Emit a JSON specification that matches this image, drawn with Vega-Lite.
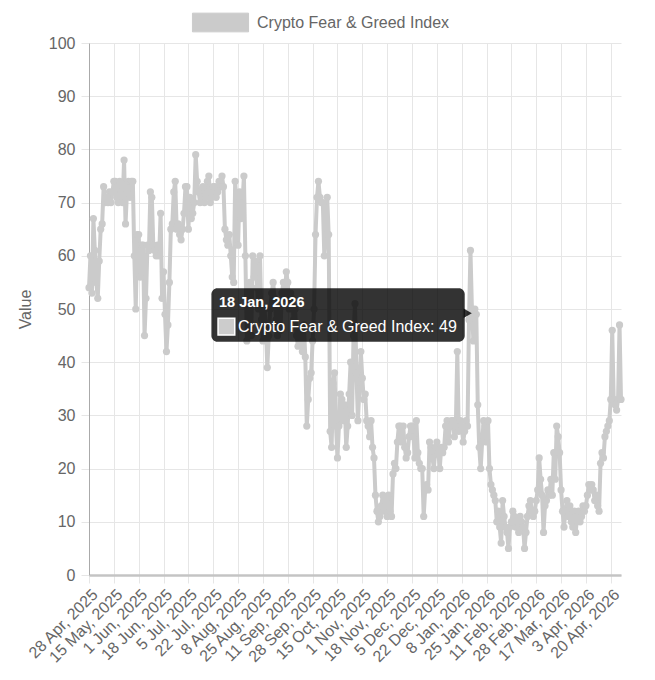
{
  "$schema": "https://vega.github.io/schema/vega-lite/v6.json",
  "width": 532,
  "height": 532,
  "autosize": {"type": "none"},
  "padding": {"left": 89, "top": 43, "right": 34, "bottom": 105},
  "background": "white",
  "config": {"font": "Liberation Sans", "view": {"stroke": null}},
  "datasets": {
    "fng": [
      {"date":"2025-04-28","value":54},{"date":"2025-04-29","value":60},{"date":"2025-04-30","value":53},
      {"date":"2025-05-01","value":67},{"date":"2025-05-02","value":61},{"date":"2025-05-03","value":55},{"date":"2025-05-04","value":52},{"date":"2025-05-05","value":59},{"date":"2025-05-06","value":65},{"date":"2025-05-07","value":66},{"date":"2025-05-08","value":73},{"date":"2025-05-09","value":70},{"date":"2025-05-10","value":71},{"date":"2025-05-11","value":70},{"date":"2025-05-12","value":72},{"date":"2025-05-13","value":70},{"date":"2025-05-14","value":72},{"date":"2025-05-15","value":74},{"date":"2025-05-16","value":74},{"date":"2025-05-17","value":71},{"date":"2025-05-18","value":70},{"date":"2025-05-19","value":74},{"date":"2025-05-20","value":72},{"date":"2025-05-21","value":70},{"date":"2025-05-22","value":78},{"date":"2025-05-23","value":66},{"date":"2025-05-24","value":72},{"date":"2025-05-25","value":74},{"date":"2025-05-26","value":71},{"date":"2025-05-27","value":74},{"date":"2025-05-28","value":74},{"date":"2025-05-29","value":60},{"date":"2025-05-30","value":50},{"date":"2025-05-31","value":64},
      {"date":"2025-06-01","value":64},{"date":"2025-06-02","value":56},{"date":"2025-06-03","value":62},{"date":"2025-06-04","value":62},{"date":"2025-06-05","value":45},{"date":"2025-06-06","value":52},{"date":"2025-06-07","value":62},{"date":"2025-06-08","value":61},{"date":"2025-06-09","value":72},{"date":"2025-06-10","value":71},{"date":"2025-06-11","value":62},{"date":"2025-06-12","value":61},{"date":"2025-06-13","value":60},{"date":"2025-06-14","value":62},{"date":"2025-06-15","value":60},{"date":"2025-06-16","value":68},{"date":"2025-06-17","value":52},{"date":"2025-06-18","value":57},{"date":"2025-06-19","value":49},{"date":"2025-06-20","value":42},{"date":"2025-06-21","value":47},{"date":"2025-06-22","value":55},{"date":"2025-06-23","value":65},{"date":"2025-06-24","value":66},{"date":"2025-06-25","value":72},{"date":"2025-06-26","value":74},{"date":"2025-06-27","value":65},{"date":"2025-06-28","value":66},{"date":"2025-06-29","value":64},{"date":"2025-06-30","value":63},
      {"date":"2025-07-01","value":65},{"date":"2025-07-02","value":68},{"date":"2025-07-03","value":73},{"date":"2025-07-04","value":73},{"date":"2025-07-05","value":65},{"date":"2025-07-06","value":71},{"date":"2025-07-07","value":67},{"date":"2025-07-08","value":68},{"date":"2025-07-09","value":70},{"date":"2025-07-10","value":79},{"date":"2025-07-11","value":74},{"date":"2025-07-12","value":72},{"date":"2025-07-13","value":70},{"date":"2025-07-14","value":71},{"date":"2025-07-15","value":73},{"date":"2025-07-16","value":70},{"date":"2025-07-17","value":71},{"date":"2025-07-18","value":74},{"date":"2025-07-19","value":75},{"date":"2025-07-20","value":70},{"date":"2025-07-21","value":71},{"date":"2025-07-22","value":73},{"date":"2025-07-23","value":73},{"date":"2025-07-24","value":71},{"date":"2025-07-25","value":72},{"date":"2025-07-26","value":74},{"date":"2025-07-27","value":73},{"date":"2025-07-28","value":75},{"date":"2025-07-29","value":73},{"date":"2025-07-30","value":65},{"date":"2025-07-31","value":63},
      {"date":"2025-08-01","value":62},{"date":"2025-08-02","value":64},{"date":"2025-08-03","value":60},{"date":"2025-08-04","value":56},{"date":"2025-08-05","value":55},{"date":"2025-08-06","value":74},{"date":"2025-08-07","value":70},{"date":"2025-08-08","value":62},{"date":"2025-08-09","value":72},{"date":"2025-08-10","value":67},{"date":"2025-08-11","value":70},{"date":"2025-08-12","value":75},{"date":"2025-08-13","value":60},{"date":"2025-08-14","value":44},{"date":"2025-08-15","value":50},{"date":"2025-08-16","value":55},{"date":"2025-08-17","value":45},{"date":"2025-08-18","value":60},{"date":"2025-08-19","value":56},{"date":"2025-08-20","value":59},{"date":"2025-08-21","value":54},{"date":"2025-08-22","value":50},{"date":"2025-08-23","value":60},{"date":"2025-08-24","value":48},{"date":"2025-08-25","value":44},{"date":"2025-08-26","value":50},{"date":"2025-08-27","value":47},{"date":"2025-08-28","value":39},{"date":"2025-08-29","value":45},{"date":"2025-08-30","value":50},{"date":"2025-08-31","value":53},
      {"date":"2025-09-01","value":55},{"date":"2025-09-02","value":52},{"date":"2025-09-03","value":48},{"date":"2025-09-04","value":45},{"date":"2025-09-05","value":50},{"date":"2025-09-06","value":46},{"date":"2025-09-07","value":53},{"date":"2025-09-08","value":55},{"date":"2025-09-09","value":52},{"date":"2025-09-10","value":57},{"date":"2025-09-11","value":55},{"date":"2025-09-12","value":50},{"date":"2025-09-13","value":53},{"date":"2025-09-14","value":52},{"date":"2025-09-15","value":48},{"date":"2025-09-16","value":50},{"date":"2025-09-17","value":45},{"date":"2025-09-18","value":43},{"date":"2025-09-19","value":46},{"date":"2025-09-20","value":44},{"date":"2025-09-21","value":42},{"date":"2025-09-22","value":47},{"date":"2025-09-23","value":41},{"date":"2025-09-24","value":28},{"date":"2025-09-25","value":33},{"date":"2025-09-26","value":37},{"date":"2025-09-27","value":38},{"date":"2025-09-28","value":44},{"date":"2025-09-29","value":50},{"date":"2025-09-30","value":64},
      {"date":"2025-10-01","value":71},{"date":"2025-10-02","value":74},{"date":"2025-10-03","value":71},{"date":"2025-10-04","value":70},{"date":"2025-10-05","value":70},{"date":"2025-10-06","value":60},{"date":"2025-10-07","value":64},{"date":"2025-10-08","value":71},{"date":"2025-10-09","value":64},{"date":"2025-10-10","value":27},{"date":"2025-10-11","value":24},{"date":"2025-10-12","value":36},{"date":"2025-10-13","value":38},{"date":"2025-10-14","value":28},{"date":"2025-10-15","value":22},{"date":"2025-10-16","value":28},{"date":"2025-10-17","value":34},{"date":"2025-10-18","value":33},{"date":"2025-10-19","value":29},{"date":"2025-10-20","value":32},{"date":"2025-10-21","value":24},{"date":"2025-10-22","value":28},{"date":"2025-10-23","value":34},{"date":"2025-10-24","value":40},{"date":"2025-10-25","value":30},{"date":"2025-10-26","value":45},{"date":"2025-10-27","value":51},{"date":"2025-10-28","value":38},{"date":"2025-10-29","value":29},{"date":"2025-10-30","value":35},{"date":"2025-10-31","value":42},
      {"date":"2025-11-01","value":37},{"date":"2025-11-02","value":33},{"date":"2025-11-03","value":34},{"date":"2025-11-04","value":29},{"date":"2025-11-05","value":28},{"date":"2025-11-06","value":26},{"date":"2025-11-07","value":29},{"date":"2025-11-08","value":24},{"date":"2025-11-09","value":22},{"date":"2025-11-10","value":15},{"date":"2025-11-11","value":12},{"date":"2025-11-12","value":10},{"date":"2025-11-13","value":11},{"date":"2025-11-14","value":13},{"date":"2025-11-15","value":15},{"date":"2025-11-16","value":12},{"date":"2025-11-17","value":14},{"date":"2025-11-18","value":11},{"date":"2025-11-19","value":15},{"date":"2025-11-20","value":12},{"date":"2025-11-21","value":11},{"date":"2025-11-22","value":19},{"date":"2025-11-23","value":21},{"date":"2025-11-24","value":20},{"date":"2025-11-25","value":25},{"date":"2025-11-26","value":28},{"date":"2025-11-27","value":28},{"date":"2025-11-28","value":25},{"date":"2025-11-29","value":28},{"date":"2025-11-30","value":24},
      {"date":"2025-12-01","value":22},{"date":"2025-12-02","value":23},{"date":"2025-12-03","value":26},{"date":"2025-12-04","value":28},{"date":"2025-12-05","value":28},{"date":"2025-12-06","value":26},{"date":"2025-12-07","value":22},{"date":"2025-12-08","value":29},{"date":"2025-12-09","value":23},{"date":"2025-12-10","value":21},{"date":"2025-12-11","value":20},{"date":"2025-12-12","value":20},{"date":"2025-12-13","value":11},{"date":"2025-12-14","value":16},{"date":"2025-12-15","value":17},{"date":"2025-12-16","value":16},{"date":"2025-12-17","value":25},{"date":"2025-12-18","value":24},{"date":"2025-12-19","value":22},{"date":"2025-12-20","value":20},{"date":"2025-12-21","value":24},{"date":"2025-12-22","value":25},{"date":"2025-12-23","value":23},{"date":"2025-12-24","value":20},{"date":"2025-12-25","value":24},{"date":"2025-12-26","value":23},{"date":"2025-12-27","value":24},{"date":"2025-12-28","value":28},{"date":"2025-12-29","value":29},{"date":"2025-12-30","value":25},{"date":"2025-12-31","value":28},
      {"date":"2026-01-01","value":29},{"date":"2026-01-02","value":29},{"date":"2026-01-03","value":26},{"date":"2026-01-04","value":28},{"date":"2026-01-05","value":42},{"date":"2026-01-06","value":27},{"date":"2026-01-07","value":29},{"date":"2026-01-08","value":28},{"date":"2026-01-09","value":25},{"date":"2026-01-10","value":27},{"date":"2026-01-11","value":29},{"date":"2026-01-12","value":28},{"date":"2026-01-13","value":48},{"date":"2026-01-14","value":61},{"date":"2026-01-15","value":50},{"date":"2026-01-16","value":44},{"date":"2026-01-17","value":50},{"date":"2026-01-18","value":49},{"date":"2026-01-19","value":32},{"date":"2026-01-20","value":24},{"date":"2026-01-21","value":20},{"date":"2026-01-22","value":25},{"date":"2026-01-23","value":29},{"date":"2026-01-24","value":28},{"date":"2026-01-25","value":25},{"date":"2026-01-26","value":29},{"date":"2026-01-27","value":20},{"date":"2026-01-28","value":17},{"date":"2026-01-29","value":16},{"date":"2026-01-30","value":15},{"date":"2026-01-31","value":14},
      {"date":"2026-02-01","value":10},{"date":"2026-02-02","value":12},{"date":"2026-02-03","value":9},{"date":"2026-02-04","value":6},{"date":"2026-02-05","value":14},{"date":"2026-02-06","value":11},{"date":"2026-02-07","value":9},{"date":"2026-02-08","value":8},{"date":"2026-02-09","value":5},{"date":"2026-02-10","value":9},{"date":"2026-02-11","value":10},{"date":"2026-02-12","value":12},{"date":"2026-02-13","value":11},{"date":"2026-02-14","value":9},{"date":"2026-02-15","value":10},{"date":"2026-02-16","value":8},{"date":"2026-02-17","value":11},{"date":"2026-02-18","value":10},{"date":"2026-02-19","value":9},{"date":"2026-02-20","value":5},{"date":"2026-02-21","value":8},{"date":"2026-02-22","value":11},{"date":"2026-02-23","value":13},{"date":"2026-02-24","value":14},{"date":"2026-02-25","value":12},{"date":"2026-02-26","value":11},{"date":"2026-02-27","value":12},{"date":"2026-02-28","value":14},
      {"date":"2026-03-01","value":16},{"date":"2026-03-02","value":22},{"date":"2026-03-03","value":18},{"date":"2026-03-04","value":15},{"date":"2026-03-05","value":8},{"date":"2026-03-06","value":13},{"date":"2026-03-07","value":14},{"date":"2026-03-08","value":16},{"date":"2026-03-09","value":15},{"date":"2026-03-10","value":18},{"date":"2026-03-11","value":15},{"date":"2026-03-12","value":23},{"date":"2026-03-13","value":18},{"date":"2026-03-14","value":28},{"date":"2026-03-15","value":26},{"date":"2026-03-16","value":23},{"date":"2026-03-17","value":16},{"date":"2026-03-18","value":12},{"date":"2026-03-19","value":9},{"date":"2026-03-20","value":12},{"date":"2026-03-21","value":14},{"date":"2026-03-22","value":11},{"date":"2026-03-23","value":13},{"date":"2026-03-24","value":10},{"date":"2026-03-25","value":9},{"date":"2026-03-26","value":12},{"date":"2026-03-27","value":8},{"date":"2026-03-28","value":11},{"date":"2026-03-29","value":12},{"date":"2026-03-30","value":10},{"date":"2026-03-31","value":11},
      {"date":"2026-04-01","value":13},{"date":"2026-04-02","value":12},{"date":"2026-04-03","value":13},{"date":"2026-04-04","value":15},{"date":"2026-04-05","value":17},{"date":"2026-04-06","value":16},{"date":"2026-04-07","value":17},{"date":"2026-04-08","value":16},{"date":"2026-04-09","value":14},{"date":"2026-04-10","value":15},{"date":"2026-04-11","value":13},{"date":"2026-04-12","value":12},{"date":"2026-04-13","value":21},{"date":"2026-04-14","value":23},{"date":"2026-04-15","value":22},{"date":"2026-04-16","value":26},{"date":"2026-04-17","value":27},{"date":"2026-04-18","value":28},{"date":"2026-04-19","value":29},{"date":"2026-04-20","value":33},{"date":"2026-04-21","value":46},{"date":"2026-04-22","value":33},{"date":"2026-04-23","value":32},{"date":"2026-04-24","value":31},{"date":"2026-04-25","value":33},{"date":"2026-04-26","value":47},{"date":"2026-04-27","value":33}
    ],
    "tip": [
      {"date":"2026-01-18","value":49,"title":"18 Jan, 2026","label":"Crypto Fear & Greed Index: 49"}
    ]
  },
  "encoding": {
    "x": {
      "field": "date",
      "type": "temporal",
      "scale": {
        "type": "utc",
        "domain": [{"year":2025,"month":4,"date":28,"utc":true},{"year":2026,"month":4,"date":27,"utc":true}],
        "nice": false,
        "padding": 0
      },
      "axis": {
        "title": null,
        "values": [
          {"year":2025,"month":4,"date":28,"utc":true},{"year":2025,"month":5,"date":15,"utc":true},{"year":2025,"month":6,"date":1,"utc":true},{"year":2025,"month":6,"date":18,"utc":true},{"year":2025,"month":7,"date":5,"utc":true},{"year":2025,"month":7,"date":22,"utc":true},{"year":2025,"month":8,"date":8,"utc":true},{"year":2025,"month":8,"date":25,"utc":true},{"year":2025,"month":9,"date":11,"utc":true},{"year":2025,"month":9,"date":28,"utc":true},{"year":2025,"month":10,"date":15,"utc":true},{"year":2025,"month":11,"date":1,"utc":true},{"year":2025,"month":11,"date":18,"utc":true},{"year":2025,"month":12,"date":5,"utc":true},{"year":2025,"month":12,"date":22,"utc":true},{"year":2026,"month":1,"date":8,"utc":true},{"year":2026,"month":1,"date":25,"utc":true},{"year":2026,"month":2,"date":11,"utc":true},{"year":2026,"month":2,"date":28,"utc":true},{"year":2026,"month":3,"date":17,"utc":true},{"year":2026,"month":4,"date":3,"utc":true},{"year":2026,"month":4,"date":20,"utc":true}
        ],
        "format": "%-d %b, %Y",
        "labelAngle": -45,
        "labelFontSize": 16,
        "labelColor": "#666666",
        "labelPadding": 3,
        "labelOverlap": false,
        "labelFlush": false,
        "labelBound": false,
        "grid": true,
        "gridColor": "#e6e6e6",
        "tickColor": "#e6e6e6",
        "tickSize": 8,
        "domainColor": "#c4c4c4",
        "domainWidth": 2.5
      }
    },
    "y": {
      "field": "value",
      "type": "quantitative",
      "scale": {"domain": [0, 100], "nice": false, "zero": true},
      "axis": {
        "title": "Value",
        "titleFontSize": 16,
        "titleFontWeight": "normal",
        "titleColor": "#666666",
        "titleX": -64,
        "titleY": 266,
        "titleAngle": -90,
        "titleAlign": "center",
        "titleBaseline": "middle",
        "values": [0,10,20,30,40,50,60,70,80,90,100],
        "labelFontSize": 16,
        "labelColor": "#666666",
        "labelPadding": 6,
        "grid": true,
        "gridColor": "#e6e6e6",
        "tickColor": "#e6e6e6",
        "tickSize": 8,
        "domainColor": "#aaaaaa",
        "domainWidth": 1
      }
    }
  },
  "layer": [
    {
      "data": {"name": "fng"},
      "mark": {"type": "line", "strokeWidth": 4, "strokeJoin": "round", "interpolate": "linear"},
      "encoding": {
        "color": {
          "datum": "Crypto Fear & Greed Index",
          "type": "nominal",
          "scale": {"range": ["#cbcbcb"]},
          "legend": {
            "orient": "none",
            "legendX": 112,
            "legendY": -40,
            "title": null,
            "padding": 0,
            "symbolType": "M-1.5,-0.5H1.5V0.5H-1.5Z",
            "symbolSize": 1400,
            "symbolFillColor": "#cccccc",
            "symbolStrokeColor": "#cbcbcb",
            "symbolStrokeWidth": 1,
            "labelFontSize": 16,
            "labelColor": "#666666",
            "labelOffset": 17,
            "labelLimit": 0
          }
        }
      }
    },
    {
      "data": {"name": "fng"},
      "mark": {"type": "point", "filled": true, "size": 52, "opacity": 1},
      "encoding": {
        "color": {"datum": "Crypto Fear & Greed Index", "type": "nominal"}
      }
    },
    {
      "data": {"name": "tip"},
      "mark": {"type": "rect", "xOffset": -264.9, "x2Offset": -11.6, "yOffset": -26, "y2Offset": 27.4, "fill": "#000000", "fillOpacity": 0.8, "cornerRadius": 6},
      "encoding": {
        "x2": {"field": "date"},
        "y2": {"field": "value"}
      }
    },
    {
      "data": {"name": "tip"},
      "mark": {"type": "point", "shape": "triangle-right", "filled": true, "size": 90, "fill": "#000000", "opacity": 0.8, "strokeWidth": 0, "xOffset": -8.6, "yOffset": -1}
    },
    {
      "data": {"name": "tip"},
      "mark": {"type": "text", "align": "left", "baseline": "alphabetic", "dx": -257.3, "dy": -7, "fontSize": 14.5, "fontWeight": "bold", "fill": "#ffffff"},
      "encoding": {"text": {"field": "title"}}
    },
    {
      "data": {"name": "tip"},
      "mark": {"type": "square", "filled": true, "size": 279, "fill": "#cccccc", "stroke": "#ffffff", "strokeWidth": 1.5, "opacity": 1, "xOffset": -249.9, "yOffset": 12.4}
    },
    {
      "data": {"name": "tip"},
      "mark": {"type": "text", "align": "left", "baseline": "alphabetic", "dx": -238.3, "dy": 17.4, "fontSize": 16, "fill": "#ffffff"},
      "encoding": {"text": {"field": "label"}}
    }
  ]
}
